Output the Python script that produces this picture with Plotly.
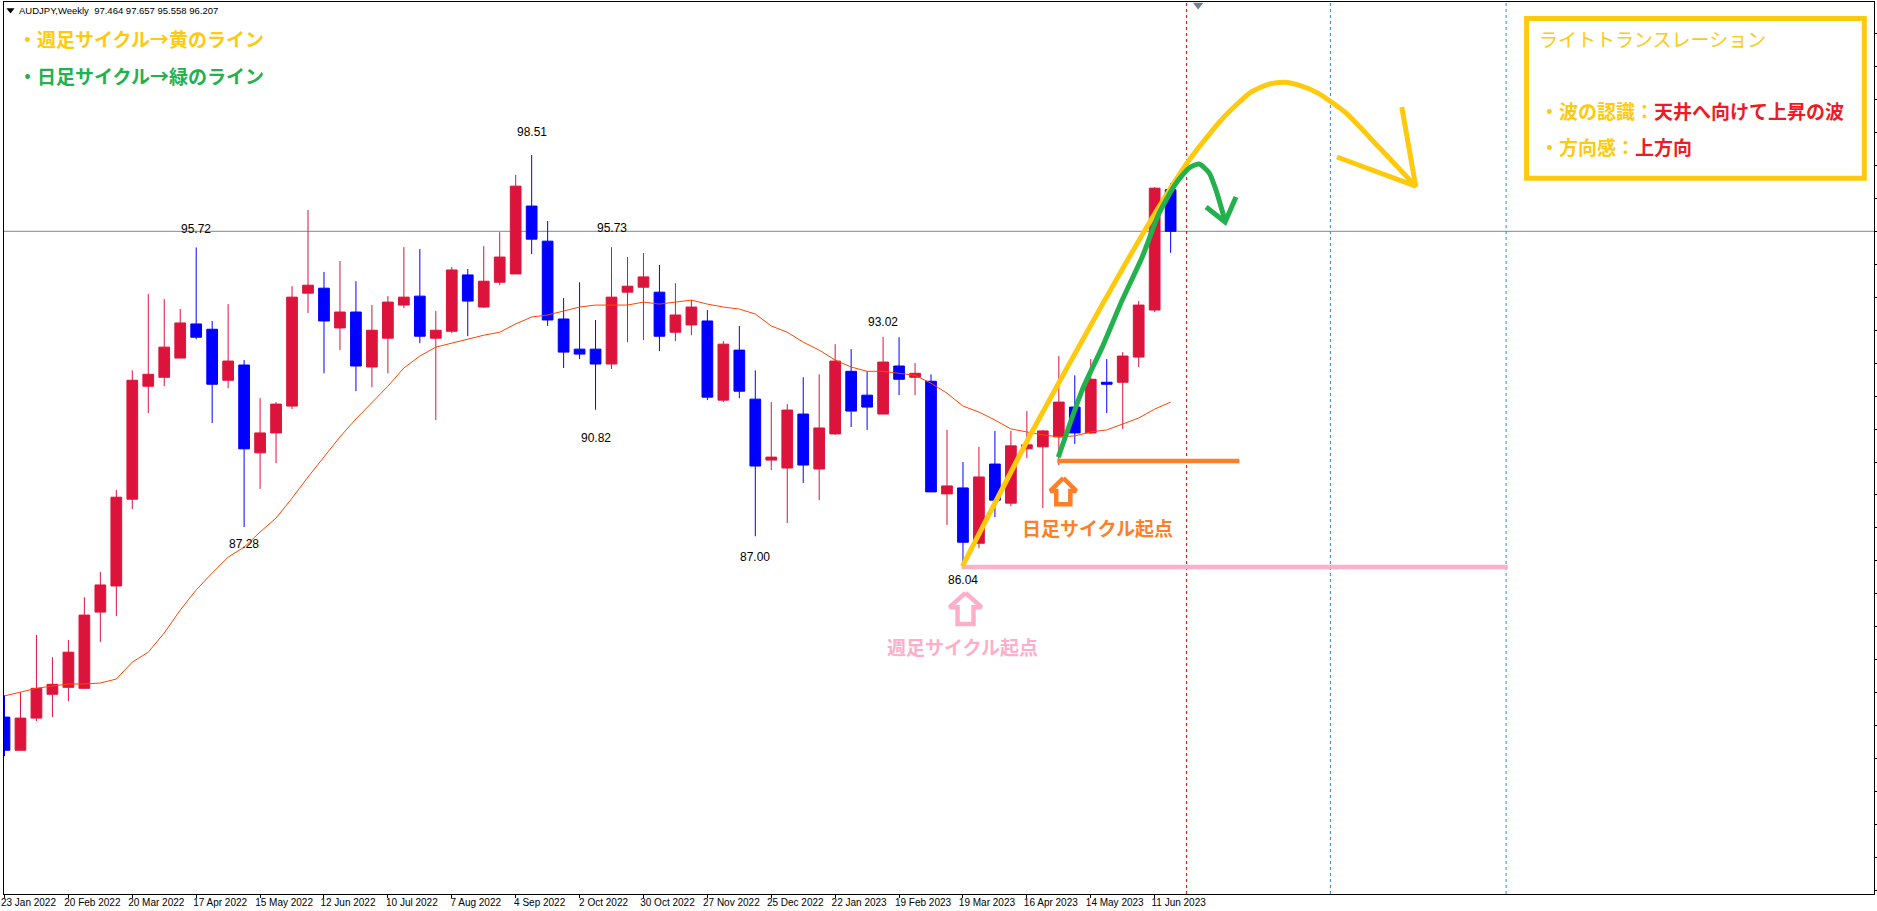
import plotly.graph_objects as go

# ---- data ----
bars = list(range(74))
opens = [81.54,80.54,81.51,82.23,82.44,82.41,84.71,85.50,88.12,91.53,91.80,92.38,93.41,93.25,91.71,92.17,89.52,90.12,90.93,94.34,
         94.49,93.29,93.77,92.11,92.98,93.98,94.25,92.98,93.19,94.89,93.92,94.67,94.92,96.97,95.91,93.56,92.65,92.65,92.20,94.37,
         94.52,94.37,93.16,93.38,93.50,91.11,92.62,91.14,89.30,89.06,90.69,89.03,90.09,91.98,91.26,90.69,92.14,91.80,91.68,88.28,
         88.46,86.79,89.18,88.00,89.64,89.70,90.00,90.90,90.12,91.65,91.65,92.41,93.83,97.464]
highs = [82.20,82.29,84.02,83.35,83.87,85.16,85.92,88.40,92.01,94.31,94.16,93.86,95.72,93.50,94.01,92.32,91.17,91.05,94.55,96.85,
         94.98,95.31,94.70,93.98,94.25,95.73,95.67,93.80,95.13,95.07,95.76,96.18,97.91,98.51,96.52,94.19,94.67,93.53,95.73,95.43,
         95.55,95.19,94.64,94.13,93.83,92.89,93.35,92.01,91.05,90.99,91.80,91.89,92.80,92.65,91.98,93.02,93.01,92.23,91.89,90.21,
         89.24,89.70,90.18,90.18,90.78,90.21,92.44,91.86,92.35,92.35,92.56,94.10,97.54,97.657]
lows = [80.36,80.54,81.42,81.54,82.02,82.41,83.81,84.59,87.82,90.72,91.53,92.38,92.95,90.42,91.47,87.28,88.43,89.21,90.84,93.74,
        91.92,92.62,91.38,91.50,91.92,93.89,92.83,90.51,93.13,93.04,93.89,94.58,94.92,95.52,93.35,92.08,92.35,90.82,92.05,92.86,
        92.92,92.59,92.89,93.07,91.11,91.05,91.17,87.00,89.00,87.40,88.61,88.09,90.06,90.30,90.21,90.69,91.26,91.26,88.34,87.34,
        86.04,86.64,87.58,87.91,89.36,87.85,89.15,89.79,90.09,90.72,90.24,92.11,93.77,95.558]
closes = [80.54,81.51,82.41,82.53,83.50,84.62,85.53,88.18,91.71,91.89,92.71,93.44,93.01,91.59,92.29,89.64,90.12,90.99,94.22,94.58,
          93.50,93.77,92.14,93.22,94.07,94.22,93.04,93.22,95.04,94.10,94.70,95.43,97.57,95.97,93.53,92.56,92.50,92.20,94.22,94.55,
          94.83,93.04,93.68,93.92,91.20,92.80,91.38,89.12,89.39,90.81,89.15,90.27,92.29,90.78,90.90,92.26,91.74,91.92,88.34,88.52,
          86.82,88.79,88.09,89.73,89.76,90.18,91.05,90.12,91.74,91.59,92.44,93.98,97.51,96.207]
ma_line = [82.18,82.29,82.41,82.48,82.54,82.54,82.57,82.69,83.20,83.50,84.08,84.77,85.38,85.89,86.37,86.67,87.13,87.55,88.15,88.79,
           89.39,90.00,90.54,91.05,91.53,92.08,92.44,92.71,92.83,92.95,93.07,93.16,93.41,93.62,93.68,93.80,93.92,93.98,93.98,93.98,
           94.07,94.01,94.07,94.13,94.01,93.92,93.86,93.71,93.35,93.16,92.86,92.62,92.32,92.11,91.98,91.98,91.92,91.86,91.62,91.32,
           90.93,90.75,90.51,90.24,90.15,90.06,90.00,90.03,90.15,90.21,90.39,90.57,90.84,91.05]
tick_bars = [0,4,8,12,16,20,24,28,32,36,40,44,48,52,56,60,64,68,72]
tick_labels = ["23 Jan 2022","20 Feb 2022","20 Mar 2022","17 Apr 2022","15 May 2022","12 Jun 2022","10 Jul 2022",
               "7 Aug 2022","4 Sep 2022","2 Oct 2022","30 Oct 2022","27 Nov 2022","25 Dec 2022","22 Jan 2023",
               "19 Feb 2023","19 Mar 2023","16 Apr 2023","14 May 2023","11 Jun 2023"]
last_price = 96.207
red_vline = [74]
blue_vlines = [83, 94]
extreme_bars = [12, 33, 38, 55, 15, 37, 47, 60]
extreme_vals = [95.72, 98.51, 95.73, 93.02, 87.28, 90.82, 87.00, 86.04]
extreme_shift = [18, 23, 19, 15, -17, -28, -21, -12]

# hand-drawn lines
yellow_x = [59.97,64.34,68.53,71.66,74.16,76.28,78.03,79.16,80.09,81.03,82.22,83.97,86.03,88.34]
yellow_y = [86.10,90.17,93.83,96.46,98.36,99.63,100.41,100.65,100.71,100.62,100.38,99.78,98.75,97.57]
yellow_head_x = [87.47,88.34,83.41]
yellow_head_y = [99.96,97.57,98.45]
green_x = [65.97,67.47,68.72,69.97,71.22,72.28,73.34,74.16,74.78,75.41,75.84,76.41]
green_y = [89.39,91.42,92.71,94.13,95.43,96.76,97.66,98.12,98.24,97.97,97.45,96.52]
green_head_x = [75.22,76.41,77.09]
green_head_y = [96.94,96.49,97.24]
orange_x = [65.9,77.3]
orange_y = [89.27,89.27]
pink_x = [59.9,94.1]
pink_y = [86.07,86.07]
pink_arrow_x = [60.16,61.16,60.66,60.66,59.66,59.66,59.16,60.16]
pink_arrow_y = [85.29,84.86,84.86,84.35,84.35,84.86,84.86,85.29]
orange_arrow_x = [66.28,67.09,66.72,66.72,65.84,65.84,65.47,66.28]
orange_arrow_y = [88.76,88.37,88.37,87.97,87.97,88.37,88.37,88.76]

YELLOW = "#FFC90E"; GREEN = "#22B14C"; ORANGE = "#FF7F27"; PINK = "#FFAEC9"; RED = "#ED1C24"
CRIMSON = "#DC143C"; BLUE = "#0000FF"
JP = "Noto Sans CJK JP"; LAT = "Liberation Sans"

W, H = 1877, 911
L, R, T, B = 3, 1, 2, 17
def px(v): return (v - L) / (W - L - R)
def py(v): return 1 - (v - T) / (H - T - B)

fig = go.Figure()
fig.add_trace(go.Candlestick(
    x=bars, open=opens, high=highs, low=lows, close=closes,
    increasing=dict(line=dict(color=CRIMSON, width=1), fillcolor=CRIMSON),
    decreasing=dict(line=dict(color=BLUE, width=1), fillcolor=BLUE),
    whiskerwidth=0, hoverinfo="skip", showlegend=False))
fig.add_trace(go.Scatter(x=bars, y=ma_line, mode="lines", line=dict(color="#FF4500", width=1), hoverinfo="skip"))

def line(x, y, color, width, shape="linear"):
    fig.add_trace(go.Scatter(x=x, y=y, mode="lines", hoverinfo="skip",
                             line=dict(color=color, width=width, shape=shape, smoothing=0.6)))

line(pink_x, pink_y, PINK, 4.5)
line(orange_x, orange_y, ORANGE, 4.5)
line(yellow_x, yellow_y, YELLOW, 5, "spline")
line(yellow_head_x, yellow_head_y, YELLOW, 5)
line(green_x, green_y, GREEN, 5, "spline")
line(green_head_x, green_head_y, GREEN, 5)
line(pink_arrow_x, pink_arrow_y, PINK, 4.5)
line(orange_arrow_x, orange_arrow_y, ORANGE, 4.5)

# chart-shift marker and header drop-down marker
fig.add_trace(go.Scatter(x=[74.72], y=[103.04], mode="markers", hoverinfo="skip", cliponaxis=False,
                         marker=dict(symbol="triangle-down", size=9, color="#708090")))
fig.add_trace(go.Scatter(x=[0.375], y=[102.89], mode="markers", hoverinfo="skip",
                         marker=dict(symbol="triangle-down", size=7, color="#000000")))

shapes = [dict(type="line", xref="paper", yref="y", x0=0, x1=1, y0=last_price, y1=last_price,
               line=dict(color="#778899", width=1), layer="below")]
for v in red_vline:
    shapes.append(dict(type="line", xref="x", yref="paper", x0=v, x1=v, y0=0, y1=1,
                       line=dict(color="#E00000", width=1, dash="3px,3px"), layer="below"))
for v in blue_vlines:
    shapes.append(dict(type="line", xref="x", yref="paper", x0=v, x1=v, y0=0, y1=1,
                       line=dict(color="#1E90FF", width=1, dash="3px,3px"), layer="below"))
shapes.append(dict(type="rect", xref="paper", yref="paper", x0=px(1528), x1=px(1866.3), y0=py(178.2), y1=py(18.5),
                   line=dict(color=YELLOW, width=5), layer="above"))

ann = []
def text(x, y, s, color="#000000", size=19, font=JP, anchor="left"):
    ann.append(dict(xref="paper", yref="paper", x=px(x), y=py(y), text=s, showarrow=False, xanchor=anchor, yanchor="middle",
                    font=dict(family=font, size=size, color=color), borderpad=0, borderwidth=0))

text(18, 10, "AUDJPY,Weekly  97.464 97.657 95.558 96.207", size=9.5, font=LAT)
text(17, 39, "<b>・週足サイクル→黄のライン</b>", YELLOW)
text(17, 75.5, "<b>・日足サイクル→緑のライン</b>", GREEN)
text(1540, 39, "ライトトランスレーション", YELLOW, 19)
text(1541, 110, f"<b>・波の認識：<span style='color:{RED}'>天井へ向けて上昇の波</span></b>", YELLOW, 19)
text(1541, 146, f"<b>・方向感：<span style='color:{RED}'>上方向</span></b>", YELLOW, 19)
text(1098, 527, "<b>日足サイクル起点</b>", ORANGE, 19, anchor="center")
text(963.5, 646, "<b>週足サイクル起点</b>", PINK, 19, anchor="center")

for b, v, s in zip(extreme_bars, extreme_vals, extreme_shift):
    ann.append(dict(xref="x", yref="y", x=b, y=v, yshift=s, text=f"{v:.2f}", showarrow=False, xanchor="center", yanchor="middle",
                    font=dict(family=LAT, size=12, color="#000000")))

fig.update_layout(
    width=W, height=H, autosize=False,
    margin=dict(l=L, r=R, t=T, b=B, pad=0),
    paper_bgcolor="#FFFFFF", plot_bgcolor="#FFFFFF",
    showlegend=False, dragmode=False, boxgap=0.33, boxgroupgap=0,
    shapes=shapes, annotations=ann,
    xaxis=dict(range=[-0.031, 117.03], rangeslider=dict(visible=False), showgrid=False, zeroline=False,
               tickmode="array", tickvals=[b + 1.5 for b in tick_bars], ticktext=tick_labels, ticks="",
               tickfont=dict(family=LAT, size=10, color="#000000"), tickangle=0,
               ticklabeloverflow="allow", ticklabelstandoff=-1,
               showline=True, linecolor="#000000", linewidth=1, mirror=True,
               minor=dict(tickmode="array", tickvals=tick_bars, ticks="outside", ticklen=3, tickcolor="#000000", tickwidth=1, showgrid=False)),
    yaxis=dict(range=[76.20, 103.13], side="right", showgrid=False, zeroline=False, showticklabels=False,
               tick0=last_price, dtick=0.995, ticks="outside", ticklen=2, tickcolor="#000000", tickwidth=1,
               showline=True, linecolor="#000000", linewidth=1, mirror=True),
)

fig.write_html("out.html", config={"displayModeBar": False},
               post_script="document.body.style.margin='0';document.body.style.overflow='hidden';")
